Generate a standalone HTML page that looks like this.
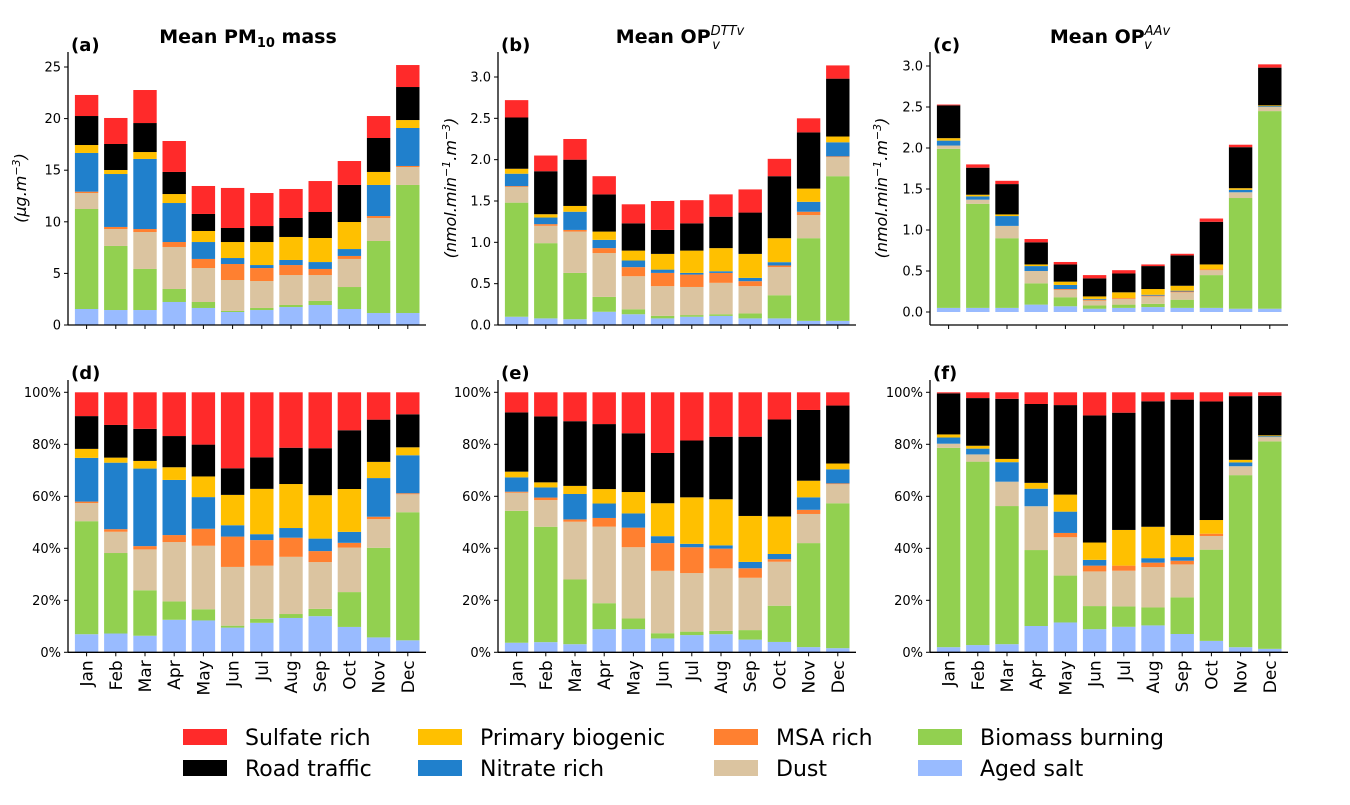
<!DOCTYPE html>
<html><head><meta charset="utf-8"><style>
body{margin:0;background:#fff;width:1350px;height:800px;overflow:hidden}
svg{font-family:"DejaVu Sans","Liberation Sans",sans-serif}
</style></head><body>
<svg id="chart" width="1350" height="800" viewBox="0 0 1350 800"></svg>
<script>
const months = ["Jan","Feb","Mar","Apr","May","Jun","Jul","Aug","Sep","Oct","Nov","Dec"];
const seriesNames = ["Aged salt","Biomass burning","Dust","MSA rich","Nitrate rich","Primary biogenic","Road traffic","Sulfate rich"];
const seriesColors = ["#99bbff","#92d050","#dbc4a0","#ff8030","#2080cc","#ffc000","#000000","#ff2a2a"];
// Panel (a) PM10 mass, ug/m3
const pmAged    = [1.55,1.45,1.45,2.23,1.65,1.26,1.45,1.74,1.94,1.55,1.16,1.16];
const pmBiomass = [9.69,6.21,3.98,1.26,0.58,0.10,0.20,0.20,0.39,2.13,6.98,12.41];
const pmDust    = [1.55,1.64,3.58,4.07,3.29,3.00,2.61,2.90,2.51,2.72,2.23,1.74];
const pmMsa     = [0.13,0.20,0.29,0.48,0.88,1.55,1.26,0.97,0.59,0.29,0.19,0.10];
const pmNitrate = [3.75,5.13,6.79,3.78,1.64,0.58,0.29,0.49,0.67,0.67,3.01,3.68];
const pmPrimBio = [0.77,0.39,0.67,0.87,1.07,1.55,2.23,2.23,2.33,2.62,1.26,0.77];
const pmRoad    = [2.81,2.52,2.81,2.14,1.65,1.36,1.55,1.84,2.52,3.59,3.29,3.20];
const pmSulfate = [2.04,2.52,3.20,3.00,2.71,3.88,3.20,2.81,3.00,2.32,2.13,2.13];
// Panel (b) OP DTTv
const dttAged    = [0.10,0.08,0.07,0.16,0.13,0.08,0.10,0.11,0.08,0.08,0.05,0.05];
const dttBiomass = [1.38,0.91,0.56,0.18,0.06,0.03,0.02,0.02,0.06,0.28,1.00,1.75];
const dttDust    = [0.19,0.21,0.50,0.53,0.40,0.36,0.34,0.38,0.33,0.34,0.28,0.23];
const dttMsa     = [0.01,0.02,0.02,0.06,0.11,0.16,0.15,0.12,0.06,0.02,0.04,0.01];
const dttNitrate = [0.15,0.08,0.22,0.10,0.08,0.04,0.02,0.02,0.04,0.04,0.12,0.17];
const dttPrimBio = [0.06,0.04,0.07,0.10,0.12,0.19,0.27,0.28,0.29,0.29,0.16,0.07];
const dttRoad    = [0.62,0.52,0.56,0.45,0.33,0.29,0.33,0.38,0.50,0.75,0.68,0.70];
const dttSulfate = [0.21,0.19,0.25,0.22,0.23,0.35,0.28,0.27,0.28,0.21,0.17,0.16];
// Panel (c) OP AAv
const aaAged    = [0.05,0.05,0.05,0.09,0.07,0.04,0.05,0.06,0.05,0.05,0.04,0.04];
const aaBiomass = [1.94,1.27,0.85,0.26,0.11,0.04,0.04,0.04,0.10,0.40,1.35,2.41];
const aaDust    = [0.04,0.05,0.15,0.15,0.09,0.06,0.07,0.09,0.09,0.06,0.07,0.05];
const aaMsa     = [0.00,0.00,0.00,0.00,0.01,0.01,0.01,0.01,0.01,0.01,0.00,0.00];
const aaNitrate = [0.06,0.04,0.12,0.06,0.05,0.01,0.00,0.01,0.01,0.00,0.03,0.01];
const aaPrimBio = [0.03,0.02,0.02,0.02,0.04,0.03,0.07,0.07,0.06,0.06,0.02,0.01];
const aaRoad    = [0.40,0.33,0.37,0.27,0.21,0.22,0.23,0.28,0.37,0.52,0.50,0.46];
const aaSulfate = [0.01,0.04,0.04,0.04,0.03,0.04,0.04,0.02,0.02,0.04,0.03,0.04];
const pmTicks = [0,5,10,15,20,25];
const dttTicks = [0,0.5,1,1.5,2,2.5,3];
const aaTicks = [0,0.5,1,1.5,2,2.5,3];
const pctTicks = [0,20,40,60,80,100];

const NS="http://www.w3.org/2000/svg";
const svg=document.getElementById('chart');
function mk(tag,attrs,parent){const e=document.createElementNS(NS,tag);for(const k in attrs)e.setAttribute(k,attrs[k]);(parent||svg).appendChild(e);return e;}

const pmData=[pmAged,pmBiomass,pmDust,pmMsa,pmNitrate,pmPrimBio,pmRoad,pmSulfate];
const dttData=[dttAged,dttBiomass,dttDust,dttMsa,dttNitrate,dttPrimBio,dttRoad,dttSulfate];
const aaData=[aaAged,aaBiomass,aaDust,aaMsa,aaNitrate,aaPrimBio,aaRoad,aaSulfate];
function toPct(data){return data.map(s=>s.map((v,i)=>{let t=0;data.forEach(d=>t+=d[i]);return v/t*100;}));}

function panel(o){
  const g=mk('g',{});
  
  
  const x0=o.x, x1=o.x+358;
  const step=29.2, first=x0+18.6;
  const xs=i=>first+i*step;
  const ys=v=>o.yZero-(v-0)*o.ppu;
  for(let i=0;i<months.length;i++){
    let acc=0;
    o.data.forEach((s,k)=>{
      const v=s[i];
      const r=mk('rect',{x:xs(i)-11.7,y:ys(acc+v),width:23.4,height:Math.max(0,ys(acc)-ys(acc+v)),fill:seriesColors[k]},g);
      
      
      acc+=v;
    });
  }
  mk('line',{x1:x0,y1:o.yTop,x2:x0,y2:o.yBot,stroke:'#000','stroke-width':1.3},g);
  mk('line',{x1:x0,y1:o.yBot,x2:x1,y2:o.yBot,stroke:'#000','stroke-width':1.3},g);
  o.ticks.forEach(t=>{
    const y=ys(t);
    mk('line',{x1:x0-4,y1:y,x2:x0,y2:y,stroke:'#000','stroke-width':1},g);
    const tx=mk('text',{x:x0-7,y:y+4.5,'text-anchor':'end','font-size':13},g);
    tx.textContent=o.fmt(t);
    
    
  });
  months.forEach((m,i)=>{
    mk('line',{x1:xs(i),y1:o.yBot,x2:xs(i),y2:o.yBot+4,stroke:'#000','stroke-width':1},g);
    if(o.labels){
      const tx=mk('text',{x:0,y:0,'text-anchor':'end','font-size':17,transform:`translate(${xs(i)+6},${o.yBot+8}) rotate(-90)`},g);
      tx.textContent=m;
      
      
    }
  });
  const pl=mk('text',{x:x0+3,y:o.yTop-1,'font-size':18,'font-weight':'bold'},g);
  pl.textContent=o.letter;
  
  
}
function fmt1(t){return t.toFixed(1);}
panel({name:'panel-a-pm10',x:68,yTop:52,yBot:325,yZero:325,ppu:10.32,data:pmData,ticks:pmTicks,fmt:t=>String(t),letter:'(a)'});
panel({name:'panel-b-dtt',x:498,yTop:52,yBot:325,yZero:325,ppu:82.67,data:dttData,ticks:dttTicks,fmt:fmt1,letter:'(b)'});
panel({name:'panel-c-aa',x:930,yTop:52,yBot:325,yZero:312,ppu:82,data:aaData,ticks:aaTicks,fmt:fmt1,letter:'(c)'});
const pctFmt=t=>t+'%';
panel({name:'panel-d-pm10-pct',x:68,yTop:380,yBot:652.3,yZero:652.3,ppu:2.6,data:toPct(pmData),ticks:pctTicks,fmt:pctFmt,letter:'(d)',labels:true});
panel({name:'panel-e-dtt-pct',x:498,yTop:380,yBot:652.3,yZero:652.3,ppu:2.6,data:toPct(dttData),ticks:pctTicks,fmt:pctFmt,letter:'(e)',labels:true});
panel({name:'panel-f-aa-pct',x:930,yTop:380,yBot:652.3,yZero:652.3,ppu:2.6,data:toPct(aaData),ticks:pctTicks,fmt:pctFmt,letter:'(f)',labels:true});
</script>
<svg style="position:absolute;left:0;top:0" width="1350" height="800">
<g font-family="DejaVu Sans, Liberation Sans, sans-serif">
<text x="248" y="43" text-anchor="middle" font-size="19" font-weight="bold">Mean PM<tspan font-size="13" dy="4">10</tspan><tspan dy="-4"> mass</tspan></text>
<text x="680" y="43" text-anchor="middle" font-size="19" font-weight="bold">Mean OP<tspan font-size="13" font-weight="normal" font-style="italic" dy="-8">DTTv</tspan><tspan font-size="13" font-weight="normal" font-style="italic" dx="-32" dy="14">v</tspan></text>
<text x="1110" y="43" text-anchor="middle" font-size="19" font-weight="bold">Mean OP<tspan font-size="13" font-weight="normal" font-style="italic" dy="-8">AAv</tspan><tspan font-size="13" font-weight="normal" font-style="italic" dx="-26" dy="14">v</tspan></text>
<text transform="translate(26,188) rotate(-90)" text-anchor="middle" font-size="16" font-style="italic">(μg.m<tspan font-size="11" dy="-6">−3</tspan><tspan dy="6">)</tspan></text>
<text transform="translate(456,188) rotate(-90)" text-anchor="middle" font-size="16" font-style="italic">(nmol.min<tspan font-size="11" dy="-6">−1</tspan><tspan dy="6">.m</tspan><tspan font-size="11" dy="-6">−3</tspan><tspan dy="6">)</tspan></text>
<text transform="translate(887,188) rotate(-90)" text-anchor="middle" font-size="16" font-style="italic">(nmol.min<tspan font-size="11" dy="-6">−1</tspan><tspan dy="6">.m</tspan><tspan font-size="11" dy="-6">−3</tspan><tspan dy="6">)</tspan></text>
<g font-size="22">
<rect x="183" y="729" width="44" height="16" fill="#ff2a2a"/><text x="245" y="745">Sulfate rich</text>
<rect x="183" y="760" width="44" height="16" fill="#000"/><text x="245" y="776">Road traffic</text>
<rect x="418" y="729" width="44" height="16" fill="#ffc000"/><text x="480" y="745">Primary biogenic</text>
<rect x="418" y="760" width="44" height="16" fill="#2080cc"/><text x="480" y="776">Nitrate rich</text>
<rect x="714" y="729" width="44" height="16" fill="#ff8030"/><text x="776" y="745">MSA rich</text>
<rect x="714" y="760" width="44" height="16" fill="#dbc4a0"/><text x="776" y="776">Dust</text>
<rect x="918" y="729" width="44" height="16" fill="#92d050"/><text x="980" y="745">Biomass burning</text>
<rect x="918" y="760" width="44" height="16" fill="#99bbff"/><text x="980" y="776">Aged salt</text>
</g></g></svg>
</body></html>
